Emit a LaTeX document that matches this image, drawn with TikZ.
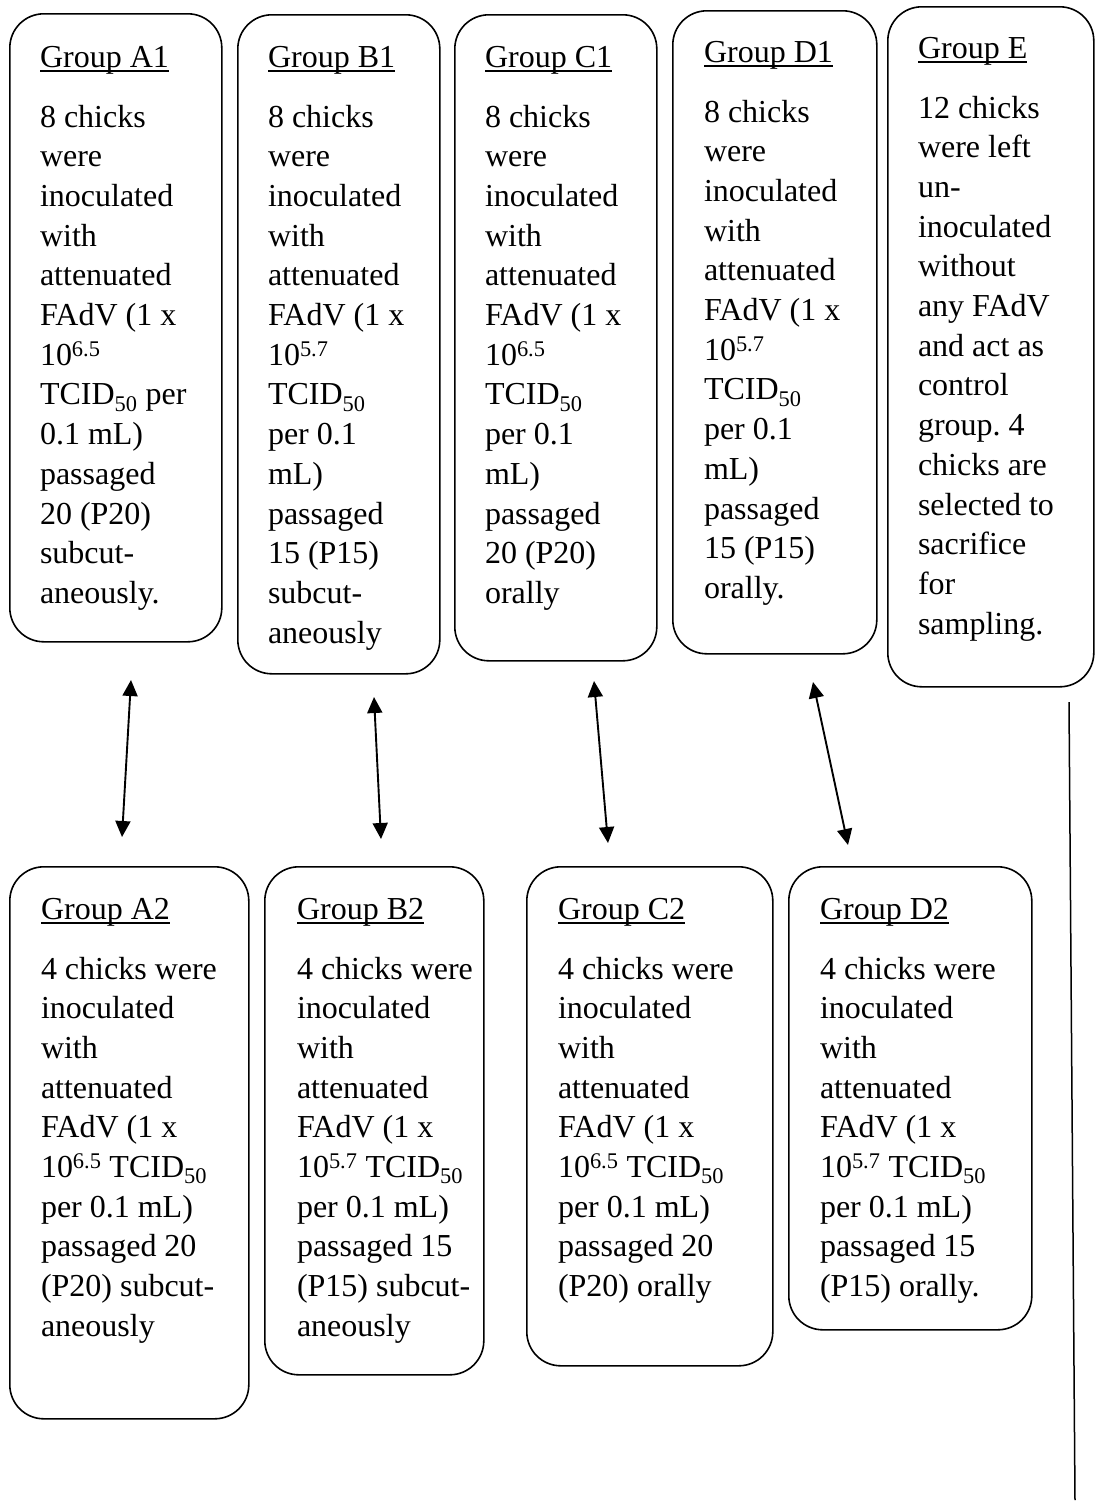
\documentclass[tikz,border=0pt]{standalone}
\usepackage{fontspec}
\setmainfont{Liberation Serif}
\usetikzlibrary{arrows.meta}
\newcommand\grpfont{\fontsize{32pt}{39.7pt}\selectfont}
\newcommand\grpul[1]{\leavevmode\setbox0\hbox{#1}\rlap{\rule[-4.5pt]{\wd0}{1.8pt}}\box0}
\newcommand\grptext[2]{\parbox[t]{400pt}{\grpfont\frenchspacing\raggedright\grpul{#1}\par\vspace{20.3pt}#2}}
\tikzset{
  box/.style={draw, line width=1.6pt, rounded corners=34pt, anchor=north west, inner sep=0pt},
  txt/.style={anchor=base west, inner sep=0pt, outer sep=0pt},
  dbl/.style={{Triangle[length=16pt,width=15pt]}-{Triangle[length=16pt,width=15pt]}, line width=1.9pt},
  plain/.style={line width=1.5pt}
}
\begin{document}
\begin{tikzpicture}[x=1pt,y=-1pt]
\useasboundingbox (0,0) rectangle (1095,1508);
% top row boxes
\node[box, minimum width=212pt, minimum height=628pt] (A1) at (9,13) {};
\node[box, minimum width=202pt, minimum height=659pt] (B1) at (237,14) {};
\node[box, minimum width=202pt, minimum height=646pt] (C1) at (454,14) {};
\node[box, minimum width=204pt, minimum height=643pt] (D1) at (672,10) {};
\node[box, minimum width=206pt, minimum height=680pt] (E) at (887,6) {};
% bottom row boxes
\node[box, minimum width=239pt, minimum height=552pt] (A2) at (9,866) {};
\node[box, minimum width=219pt, minimum height=508pt] (B2) at (264,866) {};
\node[box, minimum width=246pt, minimum height=499pt] (C2) at (526,866) {};
\node[box, minimum width=243pt, minimum height=463pt] (D2) at (788,866) {};
% texts
\node[txt] (A1t) at (40,67) {\grptext{Group A1}{8 chicks\\ were\\ inoculated\\ with\\ attenuated\\ FAdV (1 x\\ 10\textsuperscript{6.5}\\ TCID\textsubscript{50} per\\ 0.1 mL)\\ passaged\\ 20 (P20)\\ subcut-\\ aneously.}};
\node[txt] (B1t) at (268,67) {\grptext{Group B1}{8 chicks\\ were\\ inoculated\\ with\\ attenuated\\ FAdV (1 x\\ 10\textsuperscript{5.7}\\ TCID\textsubscript{50}\\ per 0.1\\ mL)\\ passaged\\ 15 (P15)\\ subcut-\\ aneously}};
\node[txt] (C1t) at (485,67) {\grptext{Group C1}{8 chicks\\ were\\ inoculated\\ with\\ attenuated\\ FAdV (1 x\\ 10\textsuperscript{6.5}\\ TCID\textsubscript{50}\\ per 0.1\\ mL)\\ passaged\\ 20 (P20)\\ orally}};
\node[txt] (D1t) at (704,62) {\grptext{Group D1}{8 chicks\\ were\\ inoculated\\ with\\ attenuated\\ FAdV (1 x\\ 10\textsuperscript{5.7}\\ TCID\textsubscript{50}\\ per 0.1\\ mL)\\ passaged\\ 15 (P15)\\ orally.}};
\node[txt] (Et) at (918,58) {\grptext{Group E}{12 chicks\\ were left\\ un-\\ inoculated\\ without\\ any FAdV\\ and act as\\ control\\ group. 4\\ chicks are\\ selected to\\ sacrifice\\ for\\ sampling.}};
\node[txt] (A2t) at (41,919) {\grptext{Group A2}{4 chicks were\\ inoculated\\ with\\ attenuated\\ FAdV (1 x\\ 10\textsuperscript{6.5} TCID\textsubscript{50}\\ per 0.1 mL)\\ passaged 20\\ (P20) subcut-\\ aneously}};
\node[txt] (B2t) at (297,919) {\grptext{Group B2}{4 chicks were\\ inoculated\\ with\\ attenuated\\ FAdV (1 x\\ 10\textsuperscript{5.7} TCID\textsubscript{50}\\ per 0.1 mL)\\ passaged 15\\ (P15) subcut-\\ aneously}};
\node[txt] (C2t) at (558,919) {\grptext{Group C2}{4 chicks were\\ inoculated\\ with\\ attenuated\\ FAdV (1 x\\ 10\textsuperscript{6.5} TCID\textsubscript{50}\\ per 0.1 mL)\\ passaged 20\\ (P20) orally}};
\node[txt] (D2t) at (820,919) {\grptext{Group D2}{4 chicks were\\ inoculated\\ with\\ attenuated\\ FAdV (1 x\\ 10\textsuperscript{5.7} TCID\textsubscript{50}\\ per 0.1 mL)\\ passaged 15\\ (P15) orally.}};
% connector end points
\coordinate (a1) at (131,680); \coordinate (a2) at (122,837);
\coordinate (b1) at (374,697); \coordinate (b2) at (381,839);
\coordinate (c1) at (594,681); \coordinate (c2) at (608,843);
\coordinate (d1) at (813,682); \coordinate (d2) at (848,845);
\coordinate (e1) at (1069,702); \coordinate (e2) at (1075,1500);
\draw[dbl] (a1) -- (a2);
\draw[dbl] (b1) -- (b2);
\draw[dbl] (c1) -- (c2);
\draw[dbl] (d1) -- (d2);
\draw[plain] (e1) -- (e2);
\end{tikzpicture}
\end{document}
